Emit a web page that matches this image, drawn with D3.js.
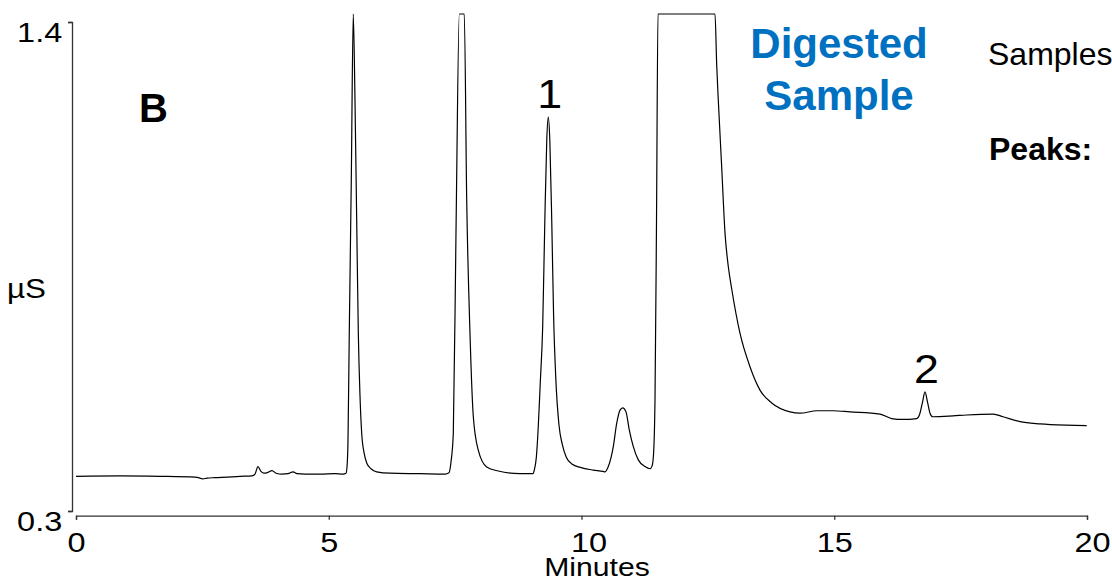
<!DOCTYPE html>
<html>
<head>
<meta charset="utf-8">
<script src="https://cdn.jsdelivr.net/npm/d3@7"></script>
<style>
  html, body { margin: 0; padding: 0; background: #fff; overflow: hidden; }
  svg { display: block; font-family: "Liberation Sans", Arial, sans-serif; }
</style>
</head>
<body>
<svg id="chart" width="1112" height="581"></svg>
<script>
// ---- Data ----
const timeMin = [
  0, 0.87, 1.662, 2.354, 2.453, 2.512, 2.592, 2.75, 3.244, 3.482, 3.541, 3.60, 3.66, 3.719, 3.798, 3.877, 3.956,
  4.075, 4.194, 4.293, 4.372, 4.53, 4.827, 5.124, 5.282, 5.341, 5.362, 5.381, 5.406, 5.446, 5.485, 5.519, 5.552,
  5.585, 5.618, 5.652, 5.70, 5.751, 5.836, 5.948, 6.212, 6.805, 7.30, 7.379, 7.418, 7.464, 7.517, 7.583, 7.681,
  7.729, 7.794, 7.860, 7.958, 8.125, 8.354, 8.783, 9.041, 9.066, 9.106, 9.145, 9.185, 9.232, 9.274, 9.313, 9.343,
  9.373, 9.412, 9.448, 9.491, 9.555, 9.620, 9.699, 9.818, 9.976, 10.233, 10.425, 10.465, 10.530, 10.629, 10.696,
  10.762, 10.815, 10.880, 10.946, 11.025, 11.124, 11.256, 11.355, 11.395, 11.424, 11.454, 11.484, 11.513, 12.641,
  12.675, 12.706, 12.773, 12.839, 12.904, 12.971, 13.135, 13.333, 13.531, 13.763, 14.125, 14.322, 14.659, 14.975,
  15.311, 15.905, 16.136, 16.360, 16.631, 16.696, 16.746, 16.795, 16.845, 16.894, 16.948, 17.349, 17.620, 18.146,
  18.338, 18.675, 19.070, 19.598, 19.994
];
const signalUS = [
  0.378, 0.379, 0.378, 0.376, 0.374, 0.372, 0.374, 0.375, 0.378, 0.379, 0.383, 0.400, 0.389, 0.385, 0.387, 0.391, 0.385,
  0.383, 0.384, 0.388, 0.384, 0.383, 0.383, 0.384, 0.383, 0.385, 0.400, 0.460, 0.700, 1.045, 1.418, 1.2245, 0.960,
  0.700, 0.560, 0.475, 0.430, 0.408, 0.395, 0.388, 0.385, 0.384, 0.383, 0.386, 0.410, 0.475, 0.925, 1.418, 1.418,
  1.000, 0.700, 0.512, 0.437, 0.399, 0.390, 0.384, 0.384, 0.392, 0.420, 0.490, 0.590, 0.714, 0.950, 1.135, 1.186,
  1.135, 0.950, 0.740, 0.600, 0.493, 0.450, 0.421, 0.405, 0.398, 0.392, 0.389, 0.388, 0.400, 0.445, 0.497,
  0.527, 0.532, 0.523, 0.482, 0.445, 0.415, 0.400, 0.395, 0.401, 0.426, 0.550, 0.955, 1.418, 1.418,
  1.302, 1.2245, 1.0745, 0.925, 0.850, 0.800, 0.700, 0.6245, 0.572, 0.543, 0.523, 0.520, 0.5255, 0.5255,
  0.523, 0.518, 0.508, 0.506, 0.508, 0.520, 0.545, 0.568, 0.545, 0.520, 0.512, 0.514, 0.516, 0.518,
  0.512, 0.501, 0.496, 0.493, 0.492
];
const xTicks = [0, 5, 10, 15, 20];
const yTicks = [0.3, 1.4];
const peakNames = ["1", "2"];
const peakTimes = [9.343, 16.795];
const peakApex = [1.186, 0.568];
const titleLines = ["Digested", "Sample"];
const panelLabel = "B";
const sideNotes = ["Samples", "Peaks:"];
const xTitle = "Minutes";
const yTitle = "\u00B5S";

// ---- Layout ----
const svg = d3.select("#chart");
const x = d3.scaleLinear().domain([0, 20]).range([76, 1087]);
const y = d3.scaleLinear().domain([0.3, 1.4]).range([511, 22]);
const axisColor = "#333";
const stretch = 1.16;

// Y axis
const yAxisG = svg.append("g").attr("transform", "translate(72,0)")
  .call(d3.axisLeft(y).tickValues(yTicks).tickFormat(d3.format(".1f"))
    .tickSize(4).tickSizeOuter(4).tickPadding(4.4));
// X axis
const xAxisG = svg.append("g").attr("transform", "translate(0,515.7)")
  .call(d3.axisBottom(x).tickValues(xTicks).tickFormat(d3.format("d"))
    .tickSize(4).tickSizeOuter(4).tickPadding(12.4));

[yAxisG, xAxisG].forEach(g => {
  g.select(".domain").attr("stroke", axisColor).attr("stroke-width", 1.3);
  g.selectAll(".tick line").attr("stroke", axisColor).attr("stroke-width", 1.3);
  g.selectAll(".tick text").attr("fill", "#000")
    .style("font-size", "28px").style("font-family", "'Liberation Sans', Arial, sans-serif")
    .attr("transform", `scale(${stretch},1)`)
    .attr("dy", "0.71em");
});
// the reference nudges the two-digit "10" and "20" labels slightly right
xAxisG.selectAll(".tick text").attr("dx", d => (d === 10 ? 7 : d === 20 ? 5 : 0) / stretch);

// Trace
const pts = timeMin.map((t, i) => [t, signalUS[i]]);
const line = d3.line().x(d => x(d[0])).y(d => y(d[1])).curve(d3.curveMonotoneX);
svg.append("path").datum(pts).attr("d", line)
  .attr("fill", "none").attr("stroke", "#000").attr("stroke-width", 1.2)
  .attr("stroke-linejoin", "round");

// Peak labels
svg.selectAll("text.peak").data(peakNames).enter().append("text")
  .attr("class", "peak")
  .attr("transform", (d, i) => `translate(${x(peakTimes[i]) + 1.5},${y(peakApex[i]) - 9}) scale(1.12,1)`)
  .attr("text-anchor", "middle").style("font-size", "40px").attr("fill", "#000")
  .text(d => d);

// Axis titles
svg.append("text").attr("transform", `translate(597,576) scale(${stretch},1)`)
  .attr("text-anchor", "middle").style("font-size", "26px").text(xTitle);
svg.append("text").attr("transform", `translate(7,298) scale(1.12,1)`)
  .style("font-size", "28px").text(yTitle);

// Panel label
svg.append("text").attr("x", 139).attr("y", 122)
  .style("font-size", "40px").style("font-weight", "bold").text(panelLabel);

// Title (blue)
svg.selectAll("text.title").data(titleLines).enter().append("text")
  .attr("class", "title").attr("x", 839).attr("y", (d, i) => 58 + i * 52)
  .attr("text-anchor", "middle").style("font-size", "42px").style("font-weight", "bold")
  .attr("fill", "#0070C0").text(d => d);

// Side notes
svg.append("text").attr("x", 988).attr("y", 65).style("font-size", "32px").text(sideNotes[0]);
svg.append("text").attr("x", 989).attr("y", 160).style("font-size", "32px")
  .style("font-weight", "bold").text(sideNotes[1]);
</script>
</body>
</html>
